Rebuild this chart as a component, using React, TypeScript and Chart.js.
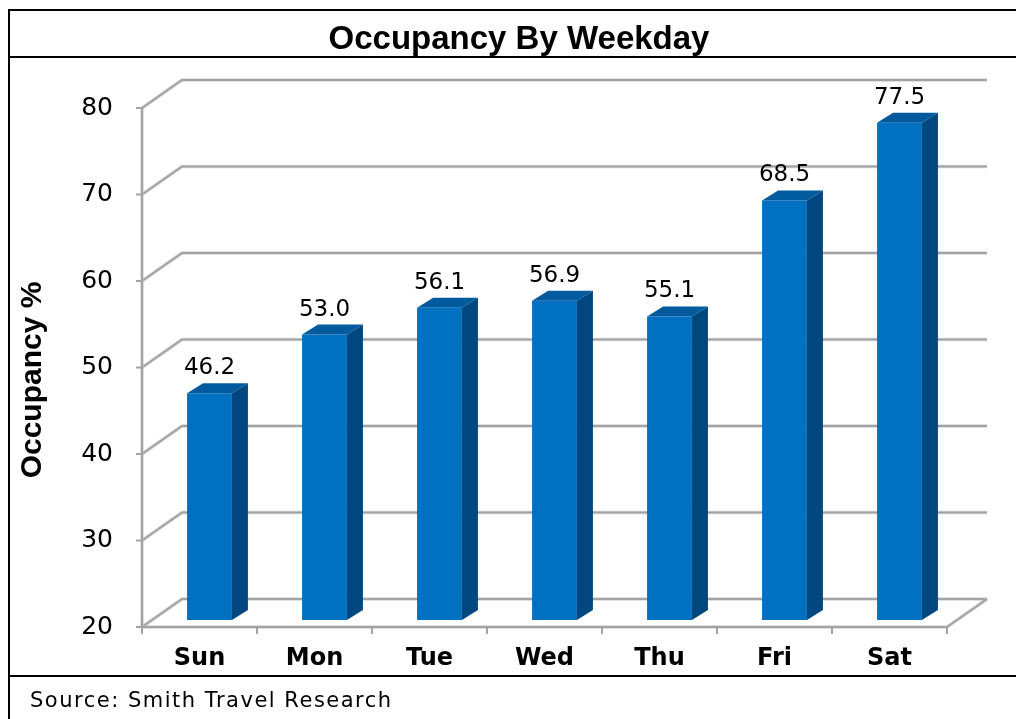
import React, { useEffect, useRef } from 'react';
import { Chart, registerables } from 'chart.js';

Chart.register(...registerables);

const categories = ['Sun', 'Mon', 'Tue', 'Wed', 'Thu', 'Fri', 'Sat'];
const occupancy = [46.2, 53.0, 56.1, 56.9, 55.1, 68.5, 77.5];
const yTicks = [20, 30, 40, 50, 60, 70, 80];
const chartTitle = 'Occupancy By Weekday';
const yAxisTitle = 'Occupancy %';
const sourceNote = 'Source: Smith Travel Research';

const W = 1008;
const H = 711;
const WALL = { dx: 40, dy: -28 };
const BAR_SHIFT = { dx: 10, dy: -7 };
const BAR_DEPTH = { dx: 16, dy: -10 };
const FRONT = '#0070C0';
const SIDE = '#00477F';
const TOP = '#005A9E';

const frame3d = {
  id: 'frame3d',
  beforeDraw(chart: any) {
    const ctx = chart.ctx;
    ctx.save();
    ctx.fillStyle = '#ffffff';
    ctx.fillRect(0, 0, W, H);
    ctx.fillStyle = '#000000';
    ctx.fillRect(0, 1, W, 2);
    ctx.fillRect(0, 1, 2, H);
    ctx.fillRect(0, 48, W, 2);
    ctx.fillRect(0, 667, W, 2);
    // title
    ctx.font = 'bold 33px "Liberation Sans", Arial, sans-serif';
    ctx.textAlign = 'center';
    ctx.textBaseline = 'alphabetic';
    ctx.fillText(chartTitle, 511, 41);
    // source
    ctx.font = '21px "DejaVu Sans", sans-serif';
    ctx.textAlign = 'left';
    try { (ctx as any).letterSpacing = '1.5px'; } catch (e) {}
    ctx.fillText(sourceNote, 22, 699);
    try { (ctx as any).letterSpacing = '0px'; } catch (e) {}
    // y axis title
    ctx.translate(24.5, 372);
    ctx.rotate(-Math.PI / 2);
    ctx.font = 'bold 30px "Liberation Sans", Arial, sans-serif';
    ctx.textAlign = 'center';
    ctx.textBaseline = 'middle';
    ctx.fillText(yAxisTitle, 0, 0);
    ctx.restore();
  },
  beforeDatasetsDraw(chart: any) {
    const ctx = chart.ctx;
    const { left, right, top, bottom } = chart.chartArea;
    const ys = chart.scales.y;
    const xs = chart.scales.x;
    ctx.save();
    ctx.lineCap = 'butt';
    ctx.lineJoin = 'miter';
    const strokeGrid = (pts: number[][]) => {
      ctx.beginPath();
      ctx.moveTo(pts[0][0], pts[0][1]);
      for (let i = 1; i < pts.length; i++) ctx.lineTo(pts[i][0], pts[i][1]);
      ctx.strokeStyle = 'rgba(190,190,190,0.6)';
      ctx.lineWidth = 3.5;
      ctx.stroke();
      ctx.strokeStyle = '#a3a3a3';
      ctx.lineWidth = 2;
      ctx.stroke();
    };
    yTicks.forEach((v) => {
      const y = ys.getPixelForValue(v);
      strokeGrid([[left, y], [left + WALL.dx, y + WALL.dy], [right + WALL.dx, y + WALL.dy]]);
    });
    // floor front and right edge
    strokeGrid([[left, bottom], [right, bottom], [right + WALL.dx, bottom + WALL.dy]]);
    // front y axis
    strokeGrid([[left, top], [left, bottom]]);
    ctx.strokeStyle = '#a3a3a3';
    ctx.lineWidth = 2;
    yTicks.forEach((v) => {
      const y = ys.getPixelForValue(v);
      ctx.beginPath();
      ctx.moveTo(left - 6, y);
      ctx.lineTo(left, y);
      ctx.stroke();
    });
    const n = categories.length;
    for (let i = 0; i <= n; i++) {
      const x = i < n ? xs.getPixelForValue(i) - (right - left) / n / 2 : right;
      ctx.beginPath();
      ctx.moveTo(x, bottom);
      ctx.lineTo(x, bottom + 7);
      ctx.stroke();
    }
    ctx.restore();
    ctx.save();
    ctx.translate(BAR_SHIFT.dx, BAR_SHIFT.dy);
  },
  afterDatasetsDraw(chart: any) {
    const ctx = chart.ctx;
    const meta = chart.getDatasetMeta(0);
    const floor = chart.chartArea.bottom;
    meta.data.forEach((bar: any, i: number) => {
      const w = bar.width;
      const x1 = bar.x - w / 2;
      const x2 = bar.x + w / 2;
      const yTop = bar.y;
      const yBase = Math.min(bar.base, floor);
      // side face
      ctx.beginPath();
      ctx.moveTo(x2, yTop);
      ctx.lineTo(x2 + BAR_DEPTH.dx, yTop + BAR_DEPTH.dy);
      ctx.lineTo(x2 + BAR_DEPTH.dx, yBase + BAR_DEPTH.dy);
      ctx.lineTo(x2, yBase);
      ctx.closePath();
      ctx.fillStyle = SIDE;
      ctx.fill();
      // top face
      ctx.beginPath();
      ctx.moveTo(x1, yTop);
      ctx.lineTo(x1 + BAR_DEPTH.dx, yTop + BAR_DEPTH.dy);
      ctx.lineTo(x2 + BAR_DEPTH.dx, yTop + BAR_DEPTH.dy);
      ctx.lineTo(x2, yTop);
      ctx.closePath();
      ctx.fillStyle = TOP;
      ctx.fill();
      // label
      ctx.font = '23px "DejaVu Sans", sans-serif';
      ctx.fillStyle = '#000000';
      ctx.textAlign = 'center';
      ctx.textBaseline = 'alphabetic';
      ctx.fillText(occupancy[i].toFixed(1), bar.x, yTop - 19);
    });
    ctx.restore();
  },
};

export default function App() {
  const ref = useRef<HTMLCanvasElement | null>(null);
  useEffect(() => {
    if (!ref.current) return;
    const chart = new Chart(ref.current, {
      type: 'bar',
      data: {
        labels: categories,
        datasets: [
          {
            label: yAxisTitle,
            data: occupancy,
            backgroundColor: FRONT,
            borderWidth: 0,
            barPercentage: 0.39,
            categoryPercentage: 1,
          },
        ],
      },
      options: {
        responsive: false,
        animation: false,
        devicePixelRatio: 1,
        layout: { padding: { top: 100, right: 69, bottom: 0, left: 0 } },
        plugins: {
          legend: { display: false },
          title: { display: false },
          tooltip: { enabled: false },
        },
        scales: {
          x: {
            type: 'category',
            grid: { display: false, drawTicks: false },
            border: { display: false },
            ticks: {
              color: '#000000',
              font: { family: '"DejaVu Sans", sans-serif', size: 24, weight: 'bold' },
              padding: 17,
              maxRotation: 0,
              autoSkip: false,
            },
            afterFit: (s: any) => { s.height = 92; },
          },
          y: {
            min: 20,
            max: 80,
            grid: { display: false, drawTicks: false },
            border: { display: false },
            ticks: {
              color: '#000000',
              font: { family: '"DejaVu Sans", sans-serif', size: 25 },
              padding: 29,
            },
            afterBuildTicks: (s: any) => { s.ticks = yTicks.map((v) => ({ value: v })); },
            afterFit: (s: any) => { s.width = 134; },
          },
        },
      },
      plugins: [frame3d],
    } as any);
    return () => chart.destroy();
  }, []);
  return (
    <div style={{ position: 'fixed', left: 8, top: 8, width: W, height: H, overflow: 'hidden' }}>
      <canvas ref={ref} width={W} height={H} style={{ display: 'block' }} />
    </div>
  );
}
